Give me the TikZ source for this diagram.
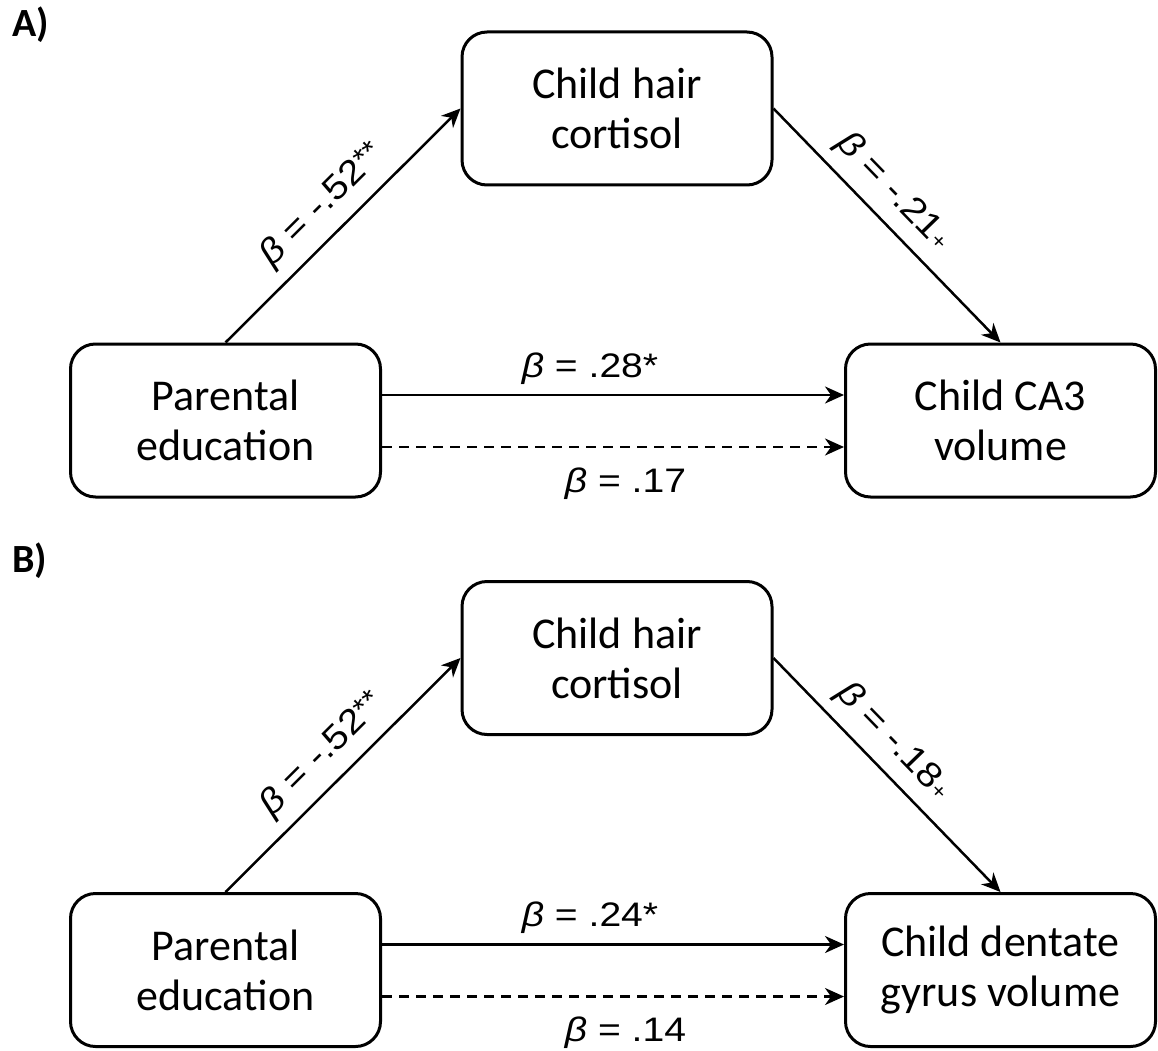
\documentclass[tikz,border=0pt]{standalone}
\usepackage{fontspec}
\setmainfont{Carlito}
\newfontfamily\labfont{Liberation Sans}[FakeStretch=1.15]
\newfontfamily\diagfont{Liberation Sans}[FakeStretch=1.12]
\usetikzlibrary{arrows.meta}
\tikzset{
  box/.style={draw, line width=3pt, rounded corners=25pt, minimum width=310pt, minimum height=153pt, align=center, font=\fontsize{44}{50}\selectfont, inner sep=0pt},
  conn/.style={line width=2.5pt, -{Stealth[length=19pt,width=17pt,inset=6pt]}},
  dashconn/.style={conn, dash pattern=on 10pt off 7pt},
  hlab/.style={font=\labfont\fontsize{34}{34}\selectfont, anchor=base, inner sep=0pt},
  dlab/.style={font=\diagfont\fontsize{35}{35}\selectfont, anchor=base, inner sep=0pt, sloped},
  panel/.style={font=\bfseries\fontsize{40}{40}\selectfont, anchor=base west, inner sep=0pt}
}
\newcommand{\stars}[1]{{\fontsize{29}{29}\selectfont\raisebox{4pt}{#1}}}
\newcommand{\smallplus}{{\fontsize{21}{21}\selectfont +}}
\begin{document}
\begin{tikzpicture}[x=1pt,y=-1pt]
\useasboundingbox (0,0) rectangle (1158,1051);
% Panel A
\node[panel] (labA) at (12,37) {A)};
\node[box] (topA) at (617,108.5) {Child hair\\cortisol};
\node[box] (leftA) at (225.5,420.5) {Parental\\education};
\node[box] (rightA) at (1000.5,420.5) {Child CA3\\volume};
\draw[conn] (leftA.north) -- (topA.west)
  node[dlab, pos=0.5, yshift=20pt] {\textit{β} = -.52\stars{**}};
\draw[conn] (topA.east) -- (rightA.north)
  node[dlab, pos=0.44, yshift=19pt] {\textit{β} = -.21\smallplus};
\draw[conn] ([yshift=25.5pt]leftA.east) -- ([yshift=25.5pt]rightA.west)
  node[hlab, pos=0.5, yshift=18pt, xshift=-23pt] {\textit{β} = .28*};
\draw[dashconn] ([yshift=-26.5pt]leftA.east) -- ([yshift=-26.5pt]rightA.west)
  node[hlab, pos=0.5, yshift=-45pt, xshift=12.5pt] {\textit{β} = .17};
% Panel B
\node[panel] (labB) at (12,572) {B)};
\node[box] (topB) at (617,658) {Child hair\\cortisol};
\node[box] (leftB) at (225.5,970) {Parental\\education};
\node[box] (rightB) at (1000.5,970) {Child dentate\\gyrus volume};
\draw[conn] (leftB.north) -- (topB.west)
  node[dlab, pos=0.5, yshift=20pt] {\textit{β} = -.52\stars{**}};
\draw[conn] (topB.east) -- (rightB.north)
  node[dlab, pos=0.44, yshift=19pt] {\textit{β} = -.18\smallplus};
\draw[conn] ([yshift=25.5pt]leftB.east) -- ([yshift=25.5pt]rightB.west)
  node[hlab, pos=0.5, yshift=18pt, xshift=-23pt] {\textit{β} = .24*};
\draw[dashconn] ([yshift=-26.5pt]leftB.east) -- ([yshift=-26.5pt]rightB.west)
  node[hlab, pos=0.5, yshift=-45pt, xshift=12.5pt] {\textit{β} = .14};
\end{tikzpicture}
\end{document}
